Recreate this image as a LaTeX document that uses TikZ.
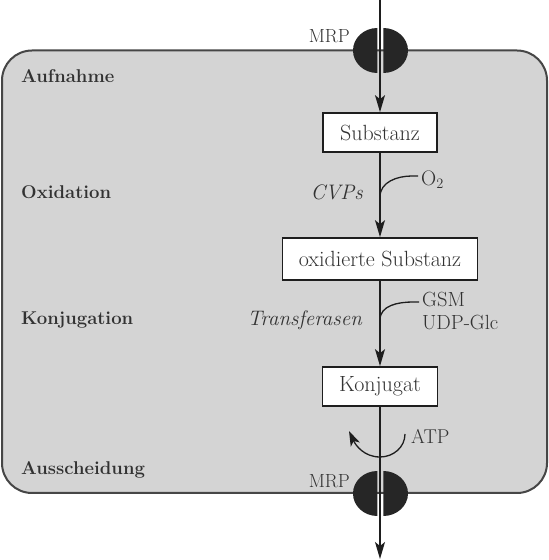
\documentclass[tikz,border=0pt]{standalone}
\usetikzlibrary{arrows.meta}
\definecolor{cellgray}{RGB}{212,212,212}
\definecolor{celledge}{RGB}{70,70,70}
\definecolor{txt}{RGB}{50,50,50}
\definecolor{lin}{RGB}{30,30,30}
\definecolor{mrpc}{RGB}{38,38,38}
\begin{document}
\begin{tikzpicture}[x=1pt,y=1pt,
  box/.style={draw=lin, line width=1.7pt, fill=white, minimum height=39pt, inner sep=0pt,
    font=\fontsize{22}{25}\selectfont, text=txt},
  stage/.style={anchor=west, inner sep=0pt, font=\fontsize{18.5}{21}\selectfont\bfseries, text=txt},
  lbl/.style={font=\fontsize{21}{24}\selectfont, text=txt},
  flow/.style={line width=1.3pt, draw=lin, -{Stealth[length=17pt,width=10pt,inset=4pt]}},
  side/.style={line width=1.3pt, draw=lin},
]
\useasboundingbox (0,0) rectangle (549,560);
% cell
\draw[fill=cellgray, draw=celledge, line width=2pt, rounded corners=30pt] (2,67) rectangle (547,509.5);
% MRP transporters
\begin{scope}
  \clip (340,0) rectangle (377.3,560);
  \fill[mrpc] (377.3,509.5) ellipse [x radius=24.3, y radius=22.5];
  \fill[mrpc] (377.3,66.5) ellipse [x radius=24.3, y radius=22.5];
\end{scope}
\begin{scope}
  \clip (383.3,0) rectangle (420,560);
  \fill[mrpc] (383.3,509.5) ellipse [x radius=24.7, y radius=22.5];
  \fill[mrpc] (383.3,66.5) ellipse [x radius=24.7, y radius=22.5];
\end{scope}
\node[lbl, anchor=east, inner sep=0pt, font=\fontsize{19}{22}\selectfont] (mrp1) at (350,524) {MRP};
\node[lbl, anchor=east, inner sep=0pt, font=\fontsize{19}{22}\selectfont] (mrp2) at (350,79) {MRP};
% stage labels
\node[stage] (auf) at (21,484) {Aufnahme};
\node[stage] (oxl) at (21,368) {Oxidation};
\node[stage] (konl) at (21,240) {Konjugation};
\node[stage] (aus) at (21,90) {Ausscheidung};
% boxes
\node[box, minimum width=114pt] (sub) at (380,427.5) {Substanz};
\node[box, minimum width=195pt, minimum height=42pt] (ox) at (380,301) {oxidierte Substanz};
\node[box, minimum width=115pt] (konj) at (380,173.5) {Konjugat};
\coordinate (top) at (380,560);
\coordinate (bot) at (380,1);
% main flow
\draw[flow] (top) -- (sub.north);
\draw[flow] (sub.south) -- (ox.north);
\draw[flow] (ox.south) -- (konj.north);
\draw[flow] (konj.south) -- (bot);
% oxidation
\node[lbl, font=\fontsize{21}{24}\selectfont\itshape, anchor=east, inner sep=0pt] (cvp) at (363,368) {CVPs};
\node[lbl, anchor=west, inner sep=0pt] (o2) at (421,380) {O$_2$};
\coordinate (o2s) at (418,384);
\coordinate (o2e) at (380,363);
\draw[side] (o2s) -- ++(-6,0) to[out=180,in=90] (o2e);
% conjugation
\node[lbl, font=\fontsize{21}{24}\selectfont\itshape, anchor=east, inner sep=0pt] (trf) at (362,240) {Transferasen};
\node[lbl, anchor=north west, align=left, inner sep=0pt, font=\fontsize{20.5}{23}\selectfont] (gsm) at (422,268) {GSM\\UDP-Glc};
\coordinate (gs) at (419,258);
\coordinate (ge) at (380,240);
\draw[side] (gs) -- ++(-6,0) to[out=180,in=90] (ge);
% ATP
\node[lbl, anchor=west, inner sep=0pt, font=\fontsize{20}{23}\selectfont] (atp) at (411,124) {ATP};
\coordinate (atps) at (405,126);
\coordinate (atpm) at (380,103);
\coordinate (atpe) at (349,129);
\draw[line width=1.3pt, draw=lin, -{Stealth[length=15pt,width=10pt,inset=4pt]}]
  (atps) to[out=-90,in=0] (atpm) to[out=180,in=-65] (atpe);
\end{tikzpicture}
\end{document}
